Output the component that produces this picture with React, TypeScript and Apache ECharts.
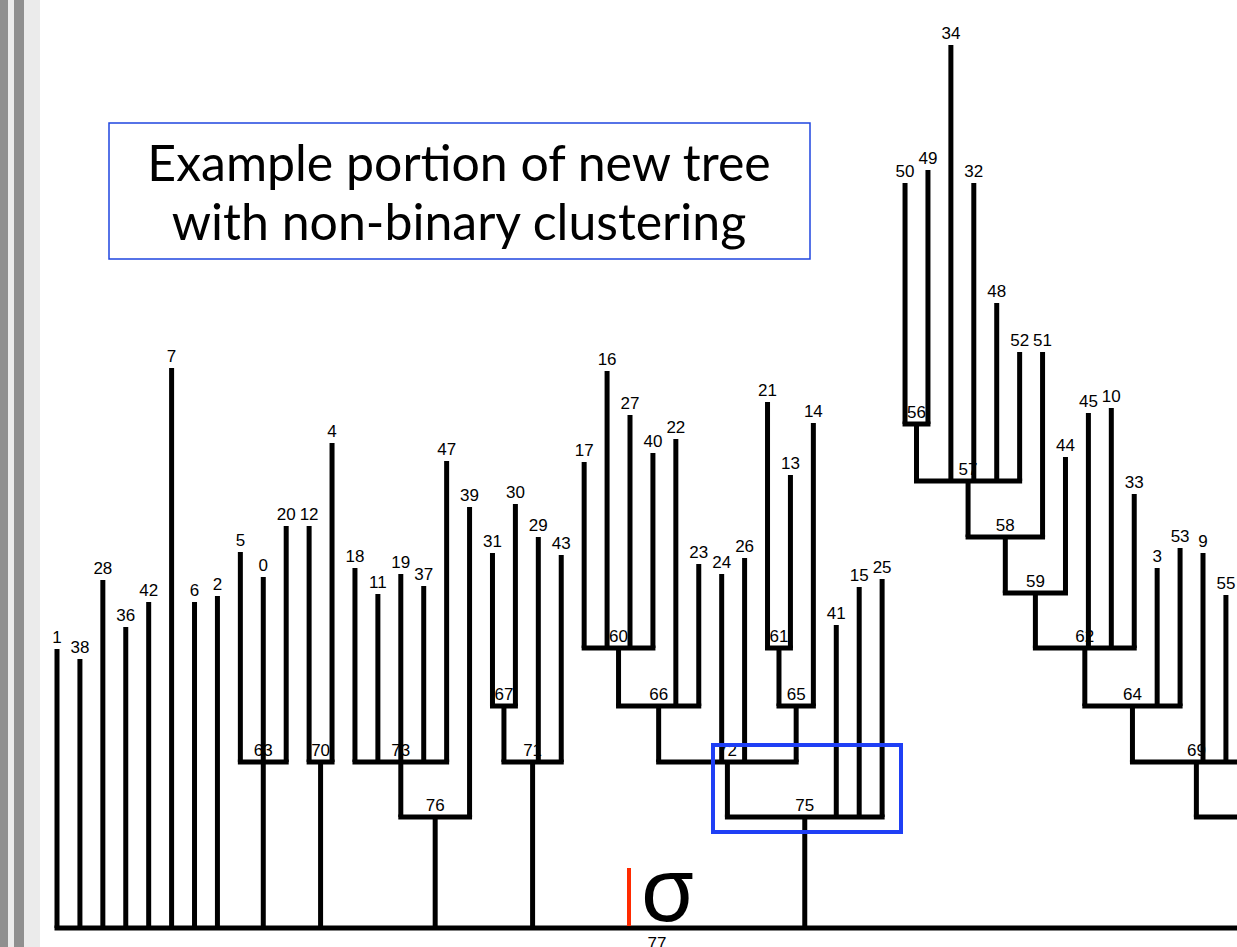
import React, { useEffect, useRef } from 'react';
import * as echarts from 'echarts';

// Leaf order (left to right) and leaf heights (distance above the root level)
const leafNames = [
  '1', '38', '28', '36', '42', '7', '6', '2', '5', '0', '20', '12', '4',
  '18', '11', '19', '37', '47', '39', '31', '30', '29', '43', '17', '16',
  '27', '40', '22', '23', '24', '26', '21', '13', '14', '41', '15', '25',
  '50', '49', '34', '32', '48', '52', '51', '44', '45', '10', '33', '3',
  '53', '9', '55',
  // beyond the right edge of the view
  '8', '35', '46', '54',
];
const leafHeights = [
  279, 269, 348, 301, 326, 560, 326, 332, 376, 351, 402, 402, 485,
  360, 334, 354, 342, 467, 421, 375, 424, 391, 373, 466, 557,
  513, 475, 489, 364, 354, 370, 526, 453, 505, 303, 341, 349,
  745, 758, 883, 745, 625, 576, 576, 471, 515, 520, 434, 360,
  380, 375, 333,
  300, 320, 290, 310,
];

// Internal clusters (children listed before parents), merge levels and members
const nodeNames = [
  '63', '70', '73', '76', '67', '71', '60', '66', '61', '65', '72', '75',
  '56', '57', '58', '59', '62', '64', '68', '69', '74', '77',
];
const nodeLevels = [
  166, 166, 166, 111, 222, 166, 280, 222, 280, 222, 166, 111,
  504, 447, 391, 335, 280, 222, 222, 166, 111, 0,
];
const nodeChildren = [
  ['5', '0', '20'],
  ['12', '4'],
  ['18', '11', '19', '37', '47'],
  ['73', '39'],
  ['31', '30'],
  ['67', '29', '43'],
  ['17', '16', '27', '40'],
  ['60', '22', '23'],
  ['21', '13'],
  ['61', '14'],
  ['66', '24', '26', '65'],
  ['72', '41', '15', '25'],
  ['50', '49'],
  ['56', '34', '32', '48', '52'],
  ['57', '51'],
  ['58', '44'],
  ['59', '45', '10', '33'],
  ['62', '3', '53'],
  ['8', '35'],
  ['64', '9', '55', '68'],
  ['69', '46', '54'],
  ['1', '38', '28', '36', '42', '7', '6', '2', '63', '70', '76', '71', '75', '74'],
];
const rootName = '77';

// Build dendrogram geometry in data space
const pos: Record<string, { x: number; y: number }> = {};
leafNames.forEach((n, i) => { pos[n] = { x: i, y: leafHeights[i] }; });
const segments: number[][] = [];
nodeNames.forEach((n, k) => {
  const ch = nodeChildren[k];
  const lvl = nodeLevels[k];
  const x0 = pos[ch[0]].x;
  const x1 = pos[ch[ch.length - 1]].x;
  ch.forEach((c) => segments.push([pos[c].x, pos[c].y, pos[c].x, lvl, 0]));
  segments.push([x0, lvl, x1, lvl, 1]);
  pos[n] = { x: (x0 + x1) / 2, y: lvl };
});
const labelNames = [...leafNames, ...nodeNames];
const labelData = labelNames.map((n) => [pos[n].x, pos[n].y]);

export default function App() {
  const ref = useRef<HTMLDivElement>(null);
  useEffect(() => {
    if (!ref.current) return;
    const chart = echarts.init(ref.current, null, { renderer: 'svg' });
    chart.setOption({
      animation: false,
      backgroundColor: '#ffffff',
      grid: { left: 57, right: 0, top: 0, bottom: 19 },
      xAxis: { type: 'value', min: 0, max: 1180 / 22.92, show: false },
      yAxis: { type: 'value', min: 0, max: 928, show: false },
      graphic: [
        { type: 'rect', shape: { x: 0, y: 0, width: 8, height: 947 }, style: { fill: '#8f8f8f' }, z: 1 },
        { type: 'rect', shape: { x: 8, y: 0, width: 6, height: 947 }, style: { fill: '#ebebeb' }, z: 1 },
        { type: 'rect', shape: { x: 14, y: 0, width: 10, height: 947 }, style: { fill: '#8f8f8f' }, z: 1 },
        { type: 'rect', shape: { x: 24, y: 0, width: 16, height: 947 }, style: { fill: '#ebebeb' }, z: 1 },
        {
          type: 'rect', shape: { x: 109, y: 123, width: 701, height: 136 },
          style: { fill: '#ffffff', stroke: '#1f45e0', lineWidth: 1.5 }, z: 1,
        },
        {
          type: 'text', x: 459, y: 162, z: 2,
          style: { text: 'Example portion of new tree', fill: '#000', fontSize: 50, fontFamily: 'Lato', align: 'center', verticalAlign: 'middle' },
        },
        {
          type: 'text', x: 459, y: 221, z: 2,
          style: { text: 'with non-binary clustering', fill: '#000', fontSize: 50, fontFamily: 'Lato', align: 'center', verticalAlign: 'middle' },
        },
        {
          type: 'rect', shape: { x: 713, y: 745, width: 188, height: 87 },
          style: { fill: 'none', stroke: '#1f3ff5', lineWidth: 4 }, z: 10,
        },
        {
          type: 'line', shape: { x1: 629, y1: 868, x2: 629, y2: 926 },
          style: { stroke: '#ff2a00', lineWidth: 4 }, z: 10,
        },
        {
          type: 'text', x: 640, y: 886, z: 10,
          style: { text: 'σ', fill: '#000', fontSize: 90, fontFamily: 'Noto Sans', align: 'left', verticalAlign: 'middle' },
        },
      ],
      series: [
        {
          type: 'custom',
          name: 'labels',
          z: 3,
          clip: false,
          data: labelData,
          renderItem: (params: any, api: any) => {
            const p = api.coord([api.value(0), api.value(1)]);
            if (p[0] > api.getWidth() + 5) return null;
            const name = labelNames[params.dataIndex];
            const isRoot = name === rootName;
            return {
              type: 'text',
              x: p[0],
              y: isRoot ? p[1] + 7 : p[1] - 3,
              style: {
                text: name,
                fill: '#000',
                fontSize: 17,
                fontFamily: 'Liberation Sans',
                align: 'center',
                verticalAlign: isRoot ? 'top' : 'bottom',
              },
            };
          },
        },
        {
          type: 'custom',
          name: 'tree',
          z: 4,
          clip: false,
          data: segments,
          renderItem: (params: any, api: any) => {
            const a = api.coord([api.value(0), api.value(1)]);
            const b = api.coord([api.value(2), api.value(3)]);
            return {
              type: 'line',
              shape: { x1: a[0], y1: a[1], x2: b[0], y2: b[1] },
              style: { stroke: '#000', lineWidth: 5, lineCap: api.value(4) ? 'square' : 'butt' },
            };
          },
        },
      ],
    });
    return () => chart.dispose();
  }, []);
  return (
    <div
      ref={ref}
      style={{ position: 'fixed', left: 0, top: 0, width: 1237, height: 947 }}
    />
  );
}
